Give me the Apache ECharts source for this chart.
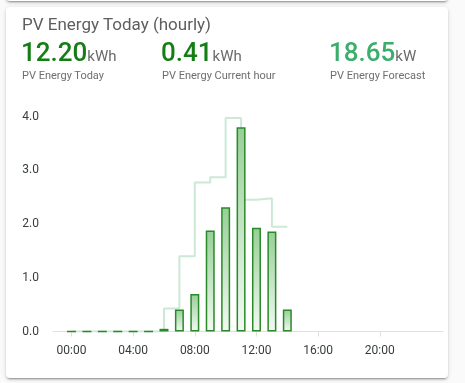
<!DOCTYPE html>
<html>
<head>
<meta charset="utf-8">
<script src="https://cdn.jsdelivr.net/npm/echarts@6/dist/echarts.min.js"></script>
<style>
  html, body { margin:0; padding:0; width:465px; height:383px; background:#fafafa; overflow:hidden; font-family: Roboto, "Noto Sans", sans-serif; }
  .card { position:absolute; background:#fff; border-radius:4px;
          box-shadow: 0 2px 2px 0 rgba(0,0,0,0.14), 0 1px 5px 0 rgba(0,0,0,0.12), 0 3px 1px -2px rgba(0,0,0,0.2); }
  #chart { position:absolute; left:0; top:0; width:465px; height:383px; }
  .txt { position:absolute; white-space:nowrap; line-height:1; }
  .title { left:22px; top:16px; font-size:17px; color:#5e5e5e; }
  .num { font-size:26px; font-weight:500; }
  .unit { font-size:15px; color:#6a6a6a; font-weight:400; }
  .lbl { font-size:11px; color:#6e6e6e; }
</style>
</head>
<body>
<div class="card" style="left:6px; top:-60px; width:442px; height:61px;"></div>
<div class="card" style="left:6px; top:7px; width:442px; height:371px;"></div>
<div id="chart"></div>
<div class="txt title">PV Energy Today (hourly)</div>
<div class="txt num" style="left:21px; top:39px; color:#147e14;">12.20<span class="unit">kWh</span></div>
<div class="txt lbl" style="left:22px; top:70px;">PV Energy Today</div>
<div class="txt num" style="left:161px; top:39px; color:#147e14;">0.41<span class="unit">kWh</span></div>
<div class="txt lbl" style="left:162px; top:70px;">PV Energy Current hour</div>
<div class="txt num" style="left:329px; top:39px; color:#3bae6c;">18.65<span class="unit">kW</span></div>
<div class="txt lbl" style="left:330px; top:70px;">PV Energy Forecast</div>
<script>
// Hourly actual energy (kWh), hour of day -> value
const actualHours  = [0, 1, 2, 3, 4, 5, 6, 7, 8, 9, 10, 11, 12, 13, 14];
const actualValues = [0, 0, 0, 0, 0, 0, 0.05, 0.41, 0.70, 1.88, 2.31, 3.80, 1.93, 1.86, 0.41];
// Hourly forecast (kWh), step line
const forecastHours  = [0, 1, 2, 3, 4, 5, 6, 7, 8, 9, 10, 11, 12, 13, 14];
const forecastValues = [0, 0, 0, 0, 0, 0, 0.43, 1.40, 2.77, 2.87, 3.97, 2.45, 2.48, 1.95, 1.95];
// Axis ticks
const xTickHours = [0, 4, 8, 12, 16, 20];
const yTicks = [0, 1, 2, 3, 4];

const chart = echarts.init(document.getElementById('chart'), null, { renderer: 'canvas' });
const pad = h => (h < 10 ? '0' + h : '' + h) + ':00';
chart.setOption({
  animation: false,
  backgroundColor: 'transparent',
  grid: { left: 53, right: 22, top: 116.5, bottom: 51.5, containLabel: false },
  xAxis: {
    type: 'value', min: -1.2, max: 24.1,
    axisLine: { show: true, lineStyle: { color: '#e0e0e0', width: 1 } },
    axisTick: { show: true, length: 5, lineStyle: { color: '#e0e0e0' }, customValues: xTickHours },
    axisLabel: { customValues: xTickHours, formatter: v => pad(v), color: '#373d3f', fontSize: 12, margin: 13, fontFamily: 'Roboto' },
    splitLine: { show: false }
  },
  yAxis: {
    type: 'value', min: yTicks[0], max: yTicks[yTicks.length - 1], interval: 1,
    axisLine: { show: false }, axisTick: { show: false }, splitLine: { show: false },
    axisLabel: { formatter: v => v.toFixed(1), color: '#373d3f', fontSize: 12, margin: 14, fontFamily: 'Roboto', padding: [0, 0, 5, 0] }
  },
  series: [
    {
      type: 'line', step: 'end', symbol: 'none', z: 1,
      data: forecastHours.map((h, i) => [h, forecastValues[i]]),
      lineStyle: { color: '#cbe9d6', width: 2 }
    },
    {
      type: 'bar', barWidth: 9, z: 2,
      data: actualHours.map((h, i) => [h, actualValues[i]]),
      itemStyle: {
        color: new echarts.graphic.LinearGradient(0, 0, 0, 1, [
          { offset: 0, color: '#97cf97' },
          { offset: 1, color: '#f3faf3' }
        ]),
        borderColor: '#2a8a2a', borderWidth: 1.5
      }
    }
  ]
});
</script>
</body>
</html>
